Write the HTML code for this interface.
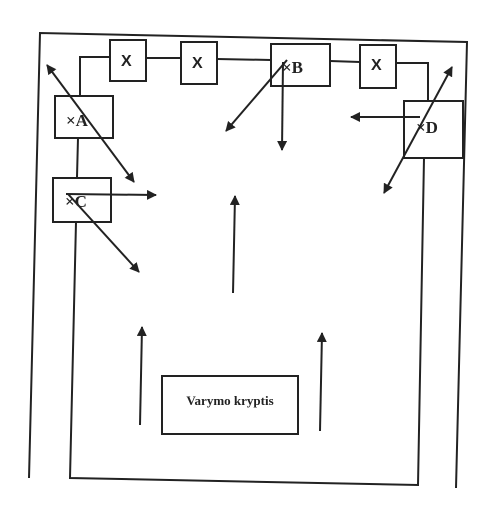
<!DOCTYPE html>
<html><head><meta charset="utf-8"><style>body{margin:0;background:#fff}svg{display:block}</style></head><body>
<svg width="488" height="529" viewBox="0 0 488 529" font-family="Liberation Serif, serif">
<defs><marker id="ah" viewBox="0 0 10 10" refX="9" refY="5" markerWidth="5" markerHeight="5" orient="auto-start-reverse"><path d="M0,0 L10,5 L0,10 z" fill="#222"/></marker></defs>
<g stroke="#222" stroke-width="2" fill="none">
<polyline points="29,478 40,33 467,42 456,488"/>
<path d="M80,96 L80,57 L110,57 M146,58 L181,58 M217,59 L271,60 M330,61 L360,62 M396,63 L428,63 L428,100 M78,138 L77,177 M76,222 L70,478 L418,485 L424,158"/>
<rect x="110" y="40" width="36" height="41"/>
<rect x="181" y="42" width="36" height="42"/>
<rect x="271" y="44" width="59" height="42"/>
<rect x="360" y="45" width="36" height="43"/>
<rect x="404" y="101" width="59" height="57"/>
<rect x="55" y="96" width="58" height="42"/>
<rect x="53" y="178" width="58" height="44"/>
<rect x="162" y="376" width="136" height="58"/>
<g stroke-width="2">
<line x1="47" y1="65" x2="134" y2="182" marker-start="url(#ah)" marker-end="url(#ah)"/>
<line x1="287" y1="60" x2="226" y2="131" marker-end="url(#ah)"/>
<line x1="283" y1="62" x2="282" y2="150" marker-end="url(#ah)"/>
<line x1="452" y1="67" x2="384" y2="193" marker-start="url(#ah)" marker-end="url(#ah)"/>
<line x1="420" y1="117" x2="351" y2="117" marker-end="url(#ah)"/>
<line x1="66" y1="194" x2="156" y2="195" marker-end="url(#ah)"/>
<line x1="68" y1="194" x2="139" y2="272" marker-end="url(#ah)"/>
<line x1="233" y1="293" x2="235" y2="196" marker-end="url(#ah)"/>
<line x1="140" y1="425" x2="142" y2="327" marker-end="url(#ah)"/>
<line x1="320" y1="431" x2="322" y2="333" marker-end="url(#ah)"/>
</g></g>
<g fill="#222" font-size="17">
<text x="121" y="66" font-family="Liberation Sans, sans-serif" font-size="16" font-weight="bold">X</text>
<text x="192" y="68" font-family="Liberation Sans, sans-serif" font-size="16" font-weight="bold">X</text>
<text x="371" y="70" font-family="Liberation Sans, sans-serif" font-size="16" font-weight="bold">X</text>
<text x="282" y="73" font-weight="bold">×B</text>
<text x="66" y="126" font-weight="bold">×A</text>
<text x="65" y="207" font-weight="bold">×C</text>
<text x="416" y="133" font-weight="bold">×D</text>
<text x="230" y="405" font-size="13" font-weight="bold" text-anchor="middle">Varymo kryptis</text>
</g>
</svg>
</body></html>
